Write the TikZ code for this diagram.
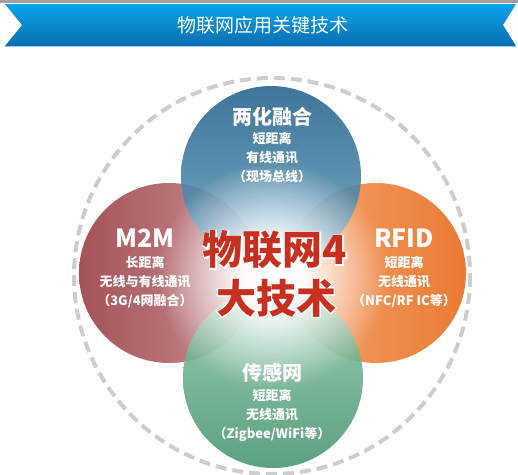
\documentclass[tikz,border=0pt]{standalone}
\usepackage{fontspec}
\newfontfamily\cjk{Noto Sans CJK SC}
\newfontfamily\cjkhalo{Noto Sans CJK SC}[FakeBold=6]
\usetikzlibrary{calc, fadings}

\definecolor{bannertop}{HTML}{08A4E8}
\definecolor{bannerbot}{HTML}{0A6DB3}
\definecolor{bannerline}{HTML}{9ACDEB}
\definecolor{topline}{HTML}{A0A0A0}
\definecolor{ringgray}{HTML}{CDCDCD}
\definecolor{bluedeep}{HTML}{2A668E}
\definecolor{bluepale}{HTML}{6AA2BE}
\definecolor{reddeep}{HTML}{9A3F45}
\definecolor{redpale}{HTML}{C4858A}
\definecolor{orgdeep}{HTML}{E86C1C}
\definecolor{orgpale}{HTML}{F29A60}
\definecolor{grndeep}{HTML}{4A9772}
\definecolor{grnpale}{HTML}{8FC6A8}
\definecolor{bigred}{HTML}{C7301F}

% white glow in the middle
\pgfdeclareradialshading{glowshade}{\pgfpointorigin}{color(0bp)=(pgftransparent!0); color(7bp)=(pgftransparent!5); color(25bp)=(pgftransparent!100); color(50bp)=(pgftransparent!100)}
\pgfdeclarefading{glow}{\pgfuseshading{glowshade}}

\begin{document}
\begin{tikzpicture}[x=1pt,y=-1pt,inner sep=0pt,node distance=19.5pt,
  title/.style={text=white,font=\cjk\fontsize{19}{19}\selectfont},
  head/.style={text=white,font=\cjk\bfseries\fontsize{20}{20}\selectfont},
  headlat/.style={text=white,font=\cjk\bfseries\fontsize{25}{25}\selectfont},
  sub/.style={text=white,font=\cjk\bfseries\fontsize{13}{13}\selectfont},
  bigtxt/.style={text=bigred,font=\cjk\bfseries\fontsize{40}{40}\selectfont},
  halo/.style={text=white,font=\cjkhalo\bfseries\fontsize{40}{40}\selectfont},
  disc/.style={fill opacity=0.9}]
\useasboundingbox (0,0) rectangle (518,474);

% banner
\fill[topline] (0,0) rectangle (518,3);
\shade[top color=bannertop,bottom color=bannerbot] (5,4) -- (516,4) -- (503,25) -- (516,46) -- (5,46) -- (22,25) -- cycle;
\draw[bannerline,line width=1pt] (5,46.5) -- (516,46.5);
\node[title] (ttl) at (263,25) {物联网应用关键技术};

% ring and discs
\coordinate (ctr) at (272,276);
\draw[ringgray,line width=4pt,dash pattern=on 11pt off 6pt] (ctr) circle (198);
\shade[disc,left color=reddeep,middle color=reddeep,right color=redpale] (169,273) circle (90);
\shade[disc,right color=orgdeep,middle color=orgdeep,left color=orgpale] (376,273) circle (90);
\shade[disc,top color=bluedeep,middle color=bluedeep,bottom color=bluepale] (271,176) circle (90);
\shade[disc,bottom color=grndeep,middle color=grndeep,top color=grnpale] (273,378) circle (90);
\fill[white,path fading=glow] (ctr) circle (115);

% top disc
\node[head] (t1) at (272,117) {两化融合};
\node[sub,below of=t1,node distance=21pt] (t2) {短距离};
\node[sub,below of=t2] (t3) {有线通讯};
\node[sub,below of=t3] (t4) {（现场总线）};

% left disc
\node[headlat] (l1) at (145,238) {M2M};
\node[sub,below of=l1,node distance=24pt] (l2) {长距离};
\node[sub,below of=l2] (l3) {无线与有线通讯};
\node[sub,below of=l3] (l4) {（3G/4网融合）};

% right disc
\node[headlat] (r1) at (404,238) {RFID};
\node[sub,below of=r1,node distance=24pt] (r2) {短距离};
\node[sub,below of=r2] (r3) {无线通讯};
\node[sub,below of=r3] (r4) {（NFC/RF IC等）};

% bottom disc
\node[head] (b1) at (272,373) {传感网};
\node[sub,below of=b1,node distance=22pt] (b2) {短距离};
\node[sub,below of=b2] (b3) {无线通讯};
\node[sub,below of=b3] (b4) {（Zigbee/WiFi等）};

% centre title, white outline behind
\node[halo] (ha) at (275,250) {物联网4};
\node[halo] (hb) at (276,298) {大技术};
\node[bigtxt] (c1) at (ha) {物联网4};
\node[bigtxt] (c2) at (hb) {大技术};
\end{tikzpicture}
\end{document}
